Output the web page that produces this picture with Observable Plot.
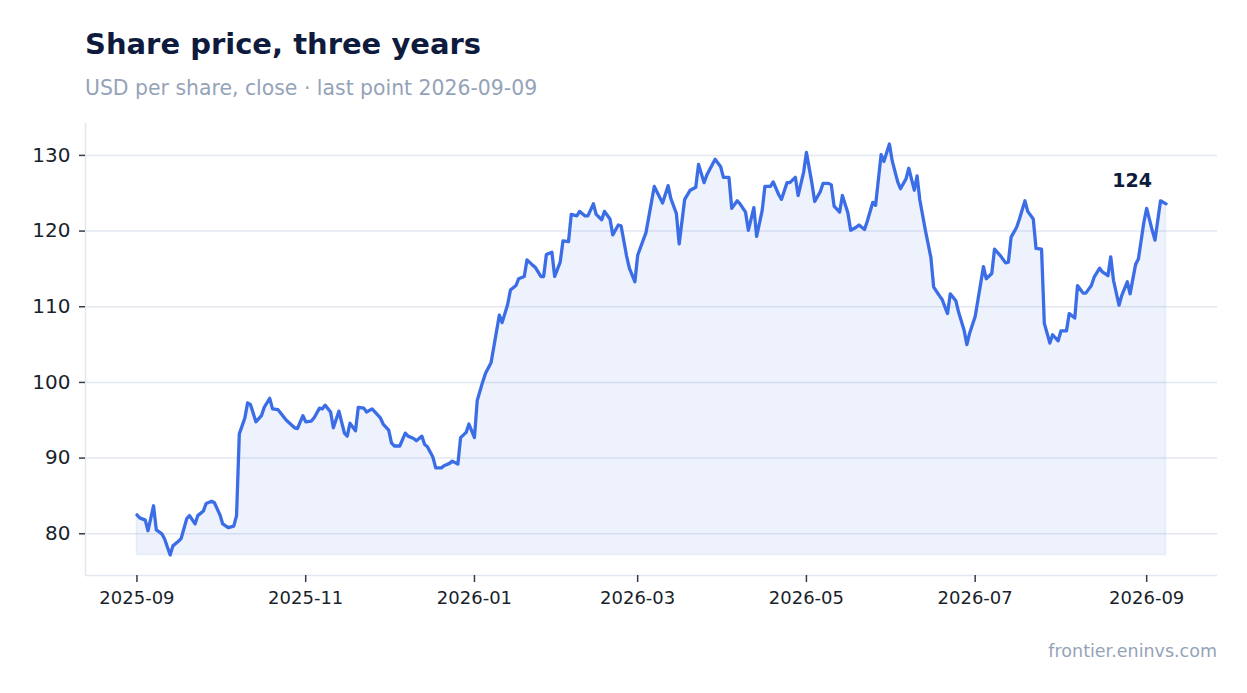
<!DOCTYPE html>
<html>
<head>
<meta charset="utf-8">
<script src="https://cdn.jsdelivr.net/npm/d3@7"></script>
<script src="https://cdn.jsdelivr.net/npm/@observablehq/plot@0.6"></script>
<style>
  html, body { margin: 0; padding: 0; background: #ffffff; }
  body { width: 1247px; height: 693px; position: relative; overflow: hidden; font-family: "DejaVu Sans", sans-serif; }
  #title { position: absolute; left: 85px; top: 30px; font-size: 29px; line-height: 1; font-weight: bold; color: #0f1b3d; white-space: nowrap; }
  #subtitle { position: absolute; left: 85px; top: 78px; font-size: 20.4px; line-height: 1; color: #94a3b8; white-space: nowrap; }
  #chart { position: absolute; left: 0; top: 110px; }
  #caption { position: absolute; right: 30px; top: 643px; font-size: 17.5px; line-height: 1; color: #94a3b8; white-space: nowrap; }
</style>
</head>
<body>
<div id="title">Share price, three years</div>
<div id="subtitle">USD per share, close · last point 2026-09-09</div>
<div id="chart"></div>
<div id="caption">frontier.eninvs.com</div>
<script>
const dates = [
"2025-09-01","2025-09-02","2025-09-04","2025-09-05","2025-09-07","2025-09-08","2025-09-10","2025-09-11","2025-09-13","2025-09-14",
"2025-09-16","2025-09-17","2025-09-19","2025-09-20","2025-09-22","2025-09-23","2025-09-25","2025-09-26","2025-09-28","2025-09-29",
"2025-10-01","2025-10-02","2025-10-04","2025-10-06","2025-10-07","2025-10-08","2025-10-10","2025-10-11","2025-10-12","2025-10-14",
"2025-10-16","2025-10-17","2025-10-19","2025-10-20","2025-10-22","2025-10-25","2025-10-28","2025-10-29","2025-10-31",
"2025-11-01","2025-11-03","2025-11-04","2025-11-06","2025-11-07","2025-11-08","2025-11-10","2025-11-11","2025-11-13","2025-11-15",
"2025-11-16","2025-11-17","2025-11-19","2025-11-20","2025-11-22","2025-11-23","2025-11-25","2025-11-26","2025-11-28","2025-11-29",
"2025-12-01","2025-12-02","2025-12-03","2025-12-05","2025-12-07","2025-12-08","2025-12-10","2025-12-11","2025-12-13","2025-12-14",
"2025-12-15","2025-12-17","2025-12-18","2025-12-20","2025-12-21","2025-12-23","2025-12-24","2025-12-26","2025-12-27","2025-12-29",
"2025-12-30",
"2026-01-01","2026-01-02","2026-01-04","2026-01-05","2026-01-07","2026-01-08","2026-01-10","2026-01-11","2026-01-13","2026-01-14",
"2026-01-16","2026-01-17","2026-01-19","2026-01-20","2026-01-22","2026-01-23","2026-01-25","2026-01-26","2026-01-27","2026-01-29",
"2026-01-30",
"2026-02-01","2026-02-02","2026-02-04","2026-02-05","2026-02-07","2026-02-08","2026-02-10","2026-02-11","2026-02-13","2026-02-14",
"2026-02-16","2026-02-17","2026-02-19","2026-02-20","2026-02-22","2026-02-23","2026-02-25","2026-02-26","2026-02-28",
"2026-03-01","2026-03-03","2026-03-04","2026-03-07","2026-03-10","2026-03-12","2026-03-13","2026-03-15","2026-03-16","2026-03-18",
"2026-03-20","2026-03-22","2026-03-23","2026-03-25","2026-03-26","2026-03-29","2026-03-31",
"2026-04-01","2026-04-03","2026-04-04","2026-04-06","2026-04-07","2026-04-09","2026-04-10","2026-04-12","2026-04-13","2026-04-15",
"2026-04-16","2026-04-18","2026-04-19","2026-04-21","2026-04-22","2026-04-24","2026-04-25","2026-04-27","2026-04-28","2026-04-30",
"2026-05-01","2026-05-03","2026-05-04","2026-05-06","2026-05-07","2026-05-09","2026-05-10","2026-05-11","2026-05-13","2026-05-14",
"2026-05-16","2026-05-17","2026-05-19","2026-05-20","2026-05-22","2026-05-23","2026-05-25","2026-05-26","2026-05-28","2026-05-29",
"2026-05-31",
"2026-06-01","2026-06-03","2026-06-04","2026-06-06","2026-06-07","2026-06-09","2026-06-10","2026-06-11","2026-06-13","2026-06-15",
"2026-06-16","2026-06-18","2026-06-19","2026-06-21","2026-06-22","2026-06-24","2026-06-25","2026-06-27","2026-06-28","2026-06-29",
"2026-07-01","2026-07-02","2026-07-04","2026-07-05","2026-07-07","2026-07-08","2026-07-10","2026-07-12","2026-07-13","2026-07-14",
"2026-07-16","2026-07-17","2026-07-19","2026-07-20","2026-07-22","2026-07-23","2026-07-25","2026-07-26","2026-07-28","2026-07-29",
"2026-07-31",
"2026-08-01","2026-08-03","2026-08-04","2026-08-06","2026-08-07","2026-08-09","2026-08-10","2026-08-12","2026-08-13","2026-08-15",
"2026-08-16","2026-08-18","2026-08-19","2026-08-20","2026-08-22","2026-08-23","2026-08-25","2026-08-26","2026-08-28","2026-08-29",
"2026-08-31",
"2026-09-01","2026-09-03","2026-09-04","2026-09-06","2026-09-08"
];
const values = [
82.5,82.1,81.8,80.4,83.7,80.5,80.0,79.3,77.2,78.4,
79.0,79.4,82.0,82.4,81.3,82.4,83.0,84.0,84.3,84.1,
82.5,81.3,80.8,81.0,82.4,93.2,95.3,97.3,97.1,94.8,
95.6,96.7,97.9,96.5,96.4,95.0,94.0,93.9,95.6,
94.8,94.9,95.3,96.6,96.5,97.0,96.1,94.0,96.2,93.3,
92.9,94.6,93.6,96.7,96.6,96.1,96.5,96.1,95.3,94.5,
93.7,92.0,91.6,91.6,93.3,92.9,92.6,92.3,92.9,91.8,
91.5,90.1,88.7,88.7,89.0,89.3,89.6,89.2,92.7,93.4,
94.5,
92.7,97.6,100.1,101.2,102.6,104.7,108.9,107.9,110.3,112.2,
112.8,113.7,114.0,116.2,115.5,115.2,114.0,114.0,116.9,117.2,
114.0,
115.9,118.7,118.6,122.2,122.0,122.6,122.0,122.0,123.6,122.2,
121.5,122.6,121.6,119.5,120.8,120.7,116.7,115.1,113.3,
116.8,118.8,119.8,125.9,123.7,126.0,124.3,122.3,118.3,124.2,
125.4,125.8,128.8,126.4,127.4,129.5,128.5,
127.1,127.1,123.0,124.0,123.6,122.5,120.1,123.1,119.3,122.7,
125.9,125.9,126.5,124.8,124.2,126.4,126.4,127.1,124.7,127.8,
130.4,126.3,123.9,125.2,126.3,126.3,126.1,123.3,122.5,124.7,
122.4,120.1,120.5,120.8,120.2,121.3,123.8,123.4,130.1,129.2,
131.5,
129.3,126.5,125.6,126.9,128.3,125.4,127.3,124.1,120.1,116.5,
112.6,111.5,111.0,109.1,111.7,110.8,109.3,106.9,105.0,106.5,
108.7,110.9,115.3,113.7,114.4,117.6,116.8,115.8,115.9,119.2,
120.5,121.6,124.0,122.6,121.6,117.7,117.6,107.8,105.2,106.3,
105.5,
106.8,106.8,109.1,108.5,112.8,111.8,111.8,112.8,113.9,115.1,
114.6,114.1,116.6,113.5,110.2,111.5,113.3,111.7,115.6,116.3,
121.2,
123.0,120.1,118.8,124.0,123.6
];
const yTicks = [80, 90, 100, 110, 120, 130];
const xTicks = ["2025-09-01","2025-11-01","2026-01-01","2026-03-01","2026-05-01","2026-07-01","2026-09-01"];

const data = dates.map((d, i) => ({date: new Date(d + "T00:00:00Z"), value: values[i]}));
const last = data[data.length - 1];

const tMin = +data[0].date, tMax = +last.date;
const tPad = (tMax - tMin) * 0.05;
const xDomain = [new Date(tMin - tPad), new Date(tMax + tPad)];
const vMin = d3.min(values), vMax = d3.max(values);
const vPad = (vMax - vMin) * 0.05;
const yDomain = [vMin - vPad, vMax + vPad];

const lineColor = "#3b6ee6";
const gridColor = "#e3e8f0";
const textColor = "#1a1f2c";

const chart = Plot.plot({
  width: 1247,
  height: 505,
  marginLeft: 85,
  marginRight: 30,
  marginTop: 13,
  marginBottom: 40,
  style: {fontFamily: "DejaVu Sans, sans-serif", color: textColor, background: "#ffffff", overflow: "visible"},
  x: {type: "utc", domain: xDomain, label: null},
  y: {domain: yDomain, label: null},
  marks: [
    Plot.gridY(yTicks, {stroke: gridColor, strokeOpacity: 1, strokeWidth: 1.5}),
    Plot.ruleX([xDomain[0]], {stroke: gridColor, strokeWidth: 1.5}),
    Plot.ruleY([yDomain[0]], {stroke: gridColor, strokeWidth: 1.5}),
    Plot.areaY(data, {x: "date", y1: vMin, y2: "value", fill: lineColor, fillOpacity: 0.085, stroke: lineColor, strokeOpacity: 0.08, strokeWidth: 1.5}),
    Plot.lineY(data, {x: "date", y: "value", stroke: lineColor, strokeWidth: 3.3, strokeLinejoin: "round", strokeLinecap: "round"}),
    Plot.axisX(xTicks.map(d => new Date(d + "T00:00:00Z")), {tickFormat: d3.utcFormat("%Y-%m"), fontSize: 18, tickSize: 7, tickPadding: 9, strokeWidth: 1.5, fill: textColor, stroke: "#333a48", label: null}),
    Plot.axisY(yTicks, {fontSize: 20, tickSize: 6, tickPadding: 9, strokeWidth: 1.5, fill: textColor, stroke: "#333a48", label: null}),
    Plot.text([last], {x: "date", y: "value", text: d => String(Math.round(d.value)), dx: -14, dy: -23, textAnchor: "end", fontSize: 19, fontWeight: "bold", fill: "#0f1b3d"})
  ]
});
document.getElementById("chart").appendChild(chart);
</script>
</body>
</html>
